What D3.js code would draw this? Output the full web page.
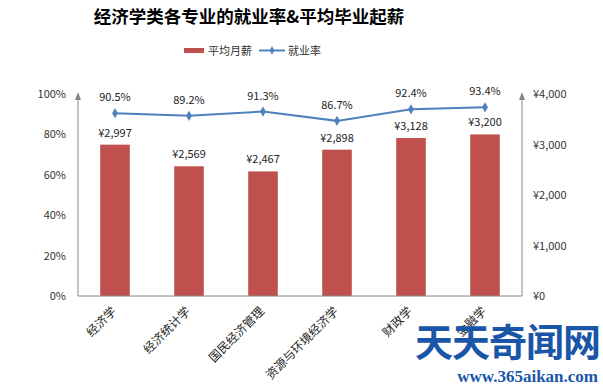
<!DOCTYPE html>
<html>
<head>
<meta charset="utf-8">
<script src="https://cdn.jsdelivr.net/npm/d3@7"></script>
<style>
  body { margin: 0; background: #fff; }
  svg { font-family: "Noto Sans CJK SC", "Liberation Sans", sans-serif; }
</style>
</head>
<body>
<svg id="chart" width="603" height="391"></svg>
<script>
var majors = ['经济学', '经济统计学', '国民经济管理', '资源与环境经济学', '财政学', '金融学'];
var salary = [2997, 2569, 2467, 2898, 3128, 3200];
var employRate = [90.5, 89.2, 91.3, 86.7, 92.4, 93.4];
var rateTicks = [0, 20, 40, 60, 80, 100];
var salaryTicks = [0, 1000, 2000, 3000, 4000];

var svg = d3.select('#chart');
var plotLeft = 78, plotRight = 522, plotTop = 94, plotBottom = 296;

var x = d3.scaleBand().domain(majors).range([plotLeft, plotRight]).paddingInner(0.6).paddingOuter(0.3);
var yRate = d3.scaleLinear().domain([0, 100]).range([plotBottom, plotTop]);
var ySal = d3.scaleLinear().domain([0, 4000]).range([plotBottom, plotTop]);

var money = function (v) { return '¥' + d3.format(',')(v); };
var cx = function (i) { return x(majors[i]) + x.bandwidth() / 2; };

// title
svg.append('text')
  .attr('x', 249).attr('y', 23)
  .attr('text-anchor', 'middle')
  .style('font-size', '17.5px').style('font-weight', 'bold').style('fill', '#000')
  .text('经济学类各专业的就业率&平均毕业起薪');

// legend
var lg = svg.append('g').style('font-size', '11px').style('fill', '#333');
lg.append('rect').attr('x', 184).attr('y', 48).attr('width', 20).attr('height', 5).style('fill', '#c0504d');
lg.append('text').attr('x', 208).attr('y', 55).text('平均月薪');
lg.append('line').attr('x1', 259).attr('x2', 285).attr('y1', 50.5).attr('y2', 50.5)
  .style('stroke', '#4f81bd').style('stroke-width', 2);
lg.append('path').attr('d', d3.symbol(d3.symbolDiamond, 22)()).attr('transform', 'translate(272,50.5)')
  .style('fill', '#4f81bd');
lg.append('text').attr('x', 288).attr('y', 55).text('就业率');

// bars
svg.selectAll('rect.bar').data(salary).enter().append('rect')
  .attr('class', 'bar')
  .attr('x', function (d, i) { return x(majors[i]); })
  .attr('width', x.bandwidth())
  .attr('y', function (d) { return ySal(d); })
  .attr('height', function (d) { return plotBottom - ySal(d); })
  .style('fill', '#c0504d');

svg.selectAll('text.sal').data(salary).enter().append('text')
  .attr('class', 'sal')
  .attr('x', function (d, i) { return cx(i); })
  .attr('y', function (d) { return ySal(d) - 8; })
  .attr('text-anchor', 'middle')
  .style('font-size', '11px').style('fill', '#222')
  .text(money);

// axes
var axisColor = '#888';
svg.append('line').attr('x1', plotLeft).attr('x2', plotRight).attr('y1', plotBottom).attr('y2', plotBottom)
  .style('stroke', axisColor);
[plotLeft, plotRight].forEach(function (ax) {
  svg.append('line').attr('x1', ax).attr('x2', ax).attr('y1', plotBottom).attr('y2', plotTop + 2)
    .style('stroke', axisColor);
  svg.append('path').attr('d', 'M' + (ax - 3) + ',' + (plotTop + 6) + 'L' + ax + ',' + (plotTop - 2) + 'L' + (ax + 3) + ',' + (plotTop + 6) + 'Z')
    .style('fill', axisColor);
});

svg.selectAll('text.rtick').data(rateTicks).enter().append('text')
  .attr('class', 'rtick')
  .attr('x', 66).attr('y', function (d) { return yRate(d) + 4; })
  .attr('text-anchor', 'end')
  .style('font-size', '11px').style('fill', '#333')
  .text(function (d) { return d + '%'; });

svg.selectAll('text.stick').data(salaryTicks).enter().append('text')
  .attr('class', 'stick')
  .attr('x', 533).attr('y', function (d) { return ySal(d) + 4; })
  .style('font-size', '11px').style('fill', '#333')
  .text(money);

// category labels, rotated
svg.selectAll('text.cat').data(majors).enter().append('text')
  .attr('class', 'cat')
  .attr('transform', function (d, i) {
    return 'translate(' + (cx(i) + 2) + ',' + (plotBottom + 16) + ') rotate(-45)';
  })
  .attr('text-anchor', 'end')
  .style('font-size', '12px').style('fill', '#222')
  .text(function (d) { return d; });

// employment rate line
var line = d3.line()
  .x(function (d, i) { return cx(i); })
  .y(function (d) { return yRate(d); });

svg.append('path').datum(employRate)
  .attr('d', line)
  .style('fill', 'none').style('stroke', '#4f81bd').style('stroke-width', 2);

svg.selectAll('path.pt').data(employRate).enter().append('path')
  .attr('class', 'pt')
  .attr('d', d3.symbol(d3.symbolDiamond, 30)())
  .attr('transform', function (d, i) {
    return 'translate(' + cx(i) + ',' + yRate(d) + ')';
  })
  .style('fill', '#4f81bd');

svg.selectAll('text.rate').data(employRate).enter().append('text')
  .attr('class', 'rate')
  .attr('x', function (d, i) { return cx(i); })
  .attr('y', function (d) { return yRate(d) - 12; })
  .attr('text-anchor', 'middle')
  .style('font-size', '11px').style('fill', '#222')
  .text(function (d) { return d.toFixed(1) + '%'; });

// watermark
svg.append('text').attr('x', 600).attr('y', 356).attr('text-anchor', 'end')
  .style('font-size', '38px').style('font-weight', 'bold')
  .style('fill', '#1a56a8').style('letter-spacing', '-1px')
  .text('天天奇闻网');
svg.append('text').attr('x', 598).attr('y', 382).attr('text-anchor', 'end')
  .style('font-family', '"Liberation Serif", serif').style('font-size', '17px').style('font-weight', 'bold')
  .style('fill', '#1a56a8')
  .text('www.365aikan.com');
</script>
</body>
</html>
